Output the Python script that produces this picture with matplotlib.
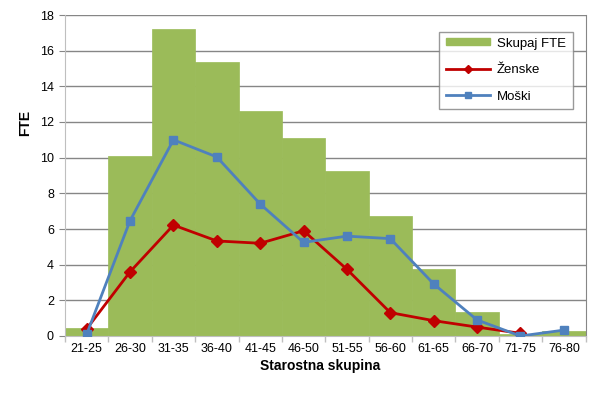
#!/usr/bin/env python3

import numpy as np
from matplotlib import pyplot as plt
import matplotlib.lines as mlines
import matplotlib.patches as mpatches

plt.rcParams['font.family'] = ['Liberation Sans', 'DejaVu Sans']

GROUPS = ['21-25', '26-30', '31-35', '36-40', '41-45', '46-50',
          '51-55', '56-60', '61-65', '66-70', '71-75', '76-80']
SKUPAJ = [0.47, 10.1, 17.2, 15.37, 12.6, 11.08, 9.27, 6.75, 3.76, 1.36, 0.1, 0.28]
ZENSKE = [0.4, 3.6, 6.22, 5.33, 5.2, 5.9, 3.74, 1.31, 0.86, 0.5, 0.15, np.nan]
MOSKI = [0.1, 6.47, 11.0, 10.04, 7.4, 5.25, 5.6, 5.46, 2.92, 0.9, 0.0, 0.33]

COLOR_BAR = '#9BBB59'
COLOR_ZEN = '#C00000'
COLOR_MOS = '#4F81BD'
COLOR_GRID = '#868686'

fig = plt.figure(figsize=(5.98, 3.97), dpi=100)
ax = fig.add_axes([65 / 598, 61 / 397, 520.5 / 598, 321 / 397])

x = np.arange(len(GROUPS))
ax.bar(x, SKUPAJ, width=1.0, color=COLOR_BAR, edgecolor=COLOR_BAR,
       linewidth=0.5, zorder=2)
ax.plot(x, ZENSKE, color=COLOR_ZEN, lw=2.0, marker='D', ms=6.5, zorder=3)
ax.plot(x, MOSKI, color=COLOR_MOS, lw=2.0, marker='s', ms=5.5, zorder=4)

ax.set_xlim(-0.5, len(GROUPS) - 0.5)
ax.set_ylim(0, 18)
ax.set_yticks(range(0, 19, 2))
ax.yaxis.grid(True, color=COLOR_GRID, lw=1.0, zorder=0)
ax.set_axisbelow(True)

ax.set_xticks(x)
ax.set_xticklabels(GROUPS, fontsize=9)
ax.set_xticks(np.arange(-0.5, len(GROUPS)), minor=True)
ax.tick_params(axis='x', which='major', length=0, pad=5)
ax.tick_params(axis='x', which='minor', length=4, color='#BFBFBF', width=1)
ax.tick_params(axis='y', length=4, color=COLOR_GRID, labelsize=9, pad=4)

ax.spines['top'].set_visible(False)
ax.spines['left'].set_color('#BFBFBF')
ax.spines['bottom'].set_color('#BFBFBF')
ax.spines['right'].set_color(COLOR_GRID)

fig.text(25 / 598, 1 - 123 / 397, 'FTE', rotation=90, fontsize=10,
         fontweight='bold', ha='center', va='center')
fig.text(320 / 598, 1 - 366 / 397, 'Starostna skupina', fontsize=10,
         fontweight='bold', ha='center', va='center')

handles = [
    mpatches.Patch(color=COLOR_BAR, label='Skupaj FTE'),
    mlines.Line2D([], [], color=COLOR_ZEN, lw=2.0, marker='D', ms=4, label='Ženske'),
    mlines.Line2D([], [], color=COLOR_MOS, lw=2.0, marker='s', ms=5, label='Moški'),
]
leg = fig.legend(handles=handles, loc='upper left',
                 bbox_to_anchor=(439 / 598, 1 - 31.5 / 397),
                 fontsize=9.5, frameon=True, fancybox=False, borderpad=0.5,
                 labelspacing=1.05, handlelength=3.4, handletextpad=0.5,
                 borderaxespad=0)
leg.get_frame().set_edgecolor('#808080')
leg.get_frame().set_linewidth(1.0)
for p in leg.get_patches():
    p.set_height(5)
    p.set_y(1.5)

fig.savefig('out.png', dpi=100)
